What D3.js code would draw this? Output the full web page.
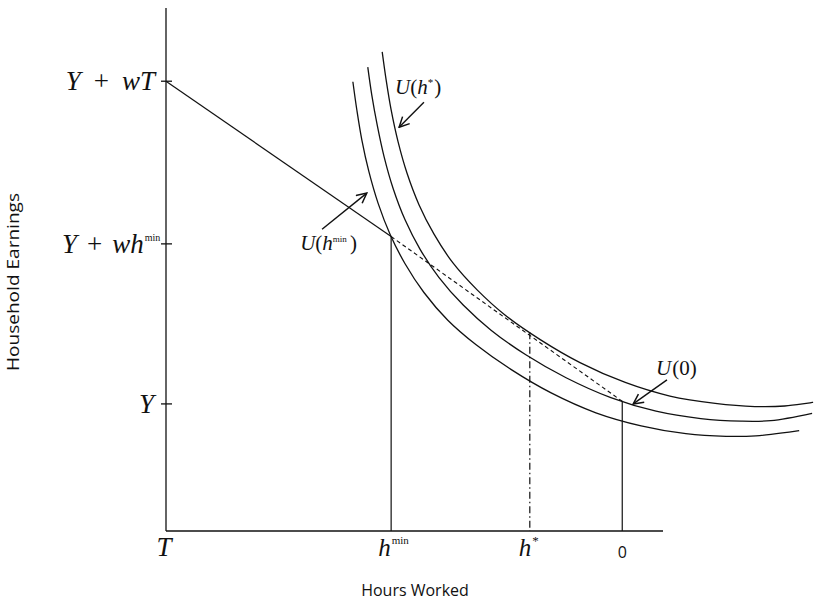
<!DOCTYPE html>
<html>
<head>
<meta charset="utf-8">
<script src="https://cdn.jsdelivr.net/npm/d3@7"></script>
<style>
  body { margin: 0; background: #fff; }
  svg { display: block; }
</style>
</head>
<body>
<div id="chart"></div>
<script>
// Diagram data (abstract units, 0..10 on both axes)
const xTickVals = [0, 4.53, 7.32, 9.18];
const yTickVals = [8.60, 5.49, 2.43];

// budget line: solid up to h^min, dashed after
const budgetX = [0, 4.53, 9.18];
const budgetY = [8.60, 5.63, 2.48];

// indifference curves
const outerX = [4.35, 4.43, 4.53, 4.67, 4.85, 5.09, 5.39, 5.77, 6.26, 6.82, 7.53, 8.33, 9.24, 10.14, 11.05, 11.85, 12.45, 13.02];
const outerY = [9.16, 8.62, 8.05, 7.44, 6.84, 6.24, 5.68, 5.13, 4.61, 4.13, 3.66, 3.22, 2.84, 2.58, 2.44, 2.38, 2.39, 2.46];
const midX = [4.06, 4.14, 4.25, 4.39, 4.57, 4.81, 5.11, 5.49, 5.98, 6.54, 7.24, 8.05, 8.95, 9.86, 10.76, 11.57, 12.17, 13.00];
const midY = [8.87, 8.34, 7.76, 7.15, 6.55, 5.95, 5.39, 4.85, 4.32, 3.84, 3.37, 2.93, 2.55, 2.29, 2.15, 2.10, 2.11, 2.25];
const innerX = [3.76, 3.84, 3.94, 4.08, 4.27, 4.51, 4.81, 5.19, 5.67, 6.24, 6.94, 7.75, 8.65, 9.56, 10.46, 11.27, 11.87, 12.74];
const innerY = [8.59, 8.05, 7.48, 6.88, 6.26, 5.67, 5.11, 4.56, 4.03, 3.56, 3.09, 2.64, 2.26, 2.01, 1.86, 1.81, 1.82, 1.92];

// vertical drop lines
const dropX = [4.53, 7.32, 9.18];
const dropTop = [5.63, 3.80, 2.48];

// annotation arrows [x1, y1, x2, y2]
const arrowHstar = [5.19, 8.20, 4.69, 7.72];
const arrowHmin = [3.14, 5.77, 4.04, 6.46];
const arrowZero = [10.08, 2.89, 9.40, 2.43];

const W = 817, H = 606;
const x = d3.scaleLinear().domain([0, 10]).range([166, 663]);
const y = d3.scaleLinear().domain([0, 10]).range([531, 8]);

const svg = d3.select("#chart").append("svg")
    .attr("width", W).attr("height", H);

const serif = "'Liberation Serif', 'Times New Roman', serif";
const sans = "'Open Sans', 'Liberation Sans', sans-serif";
const ink = "#111";

svg.append("defs").append("marker")
    .attr("id", "arr")
    .attr("viewBox", "0 0 12 12")
    .attr("refX", 11).attr("refY", 6)
    .attr("markerWidth", 12).attr("markerHeight", 12)
    .attr("markerUnits", "userSpaceOnUse")
    .attr("orient", "auto")
  .append("path")
    .attr("d", "M1,1 L11,6 L1,11")
    .attr("fill", "none").attr("stroke", ink).attr("stroke-width", 1.5);

// axes
svg.append("line")
    .attr("x1", x(0)).attr("x2", x(0)).attr("y1", y(0)).attr("y2", y(10))
    .attr("stroke", ink).attr("stroke-width", 1.3);
svg.append("line")
    .attr("x1", x(0)).attr("x2", x(10)).attr("y1", y(0)).attr("y2", y(0))
    .attr("stroke", ink).attr("stroke-width", 1.3);

// y ticks cross the axis
svg.selectAll(".ytick").data(yTickVals).enter().append("line")
    .attr("x1", x(0) - 5).attr("x2", x(0) + 6)
    .attr("y1", d => y(d)).attr("y2", d => y(d))
    .attr("stroke", ink).attr("stroke-width", 1.3);

function mathLabel(g, parts, base) {
  const t = g.append("text").attr("font-family", serif).attr("fill", ink);
  parts.forEach(p => {
    t.append("tspan").text(p.t)
      .attr("font-style", p.up ? "normal" : "italic")
      .attr("font-size", p.fs || base)
      .attr("dy", p.dy || 0)
      .attr("dx", p.dx || 0);
  });
  return t;
}

// y tick labels
mathLabel(svg, [{t: "Y"}, {t: "+", up: true, dx: 13}, {t: "wT", dx: 13}], 27)
    .attr("text-anchor", "end").attr("x", x(0) - 11).attr("y", y(yTickVals[0]) + 9);
mathLabel(svg, [{t: "Y"}, {t: "+", up: true, dx: 10}, {t: "wh", dx: 10}, {t: "min", up: true, fs: 10, dy: -12, dx: 1}], 27)
    .attr("x", 62).attr("y", y(yTickVals[1]) + 9);
mathLabel(svg, [{t: "Y"}], 27)
    .attr("text-anchor", "end").attr("x", x(0) - 12).attr("y", y(yTickVals[2]) + 9);

// x tick labels
mathLabel(svg, [{t: "T"}], 27).attr("text-anchor", "middle")
    .attr("x", x(xTickVals[0]) - 2).attr("y", 556);
mathLabel(svg, [{t: "h"}, {t: "min", up: true, fs: 11, dy: -12, dx: 1}], 25)
    .attr("x", x(xTickVals[1]) - 13).attr("y", 556);
mathLabel(svg, [{t: "h"}, {t: "*", up: true, fs: 13, dy: -11, dx: 1}], 25)
    .attr("x", x(xTickVals[2]) - 11).attr("y", 556);
svg.append("text").text("0")
    .attr("x", x(xTickVals[3])).attr("y", 558)
    .attr("text-anchor", "middle")
    .attr("font-family", sans).attr("font-size", 16).attr("fill", ink);

// budget line
svg.append("line")
    .attr("x1", x(budgetX[0])).attr("y1", y(budgetY[0]))
    .attr("x2", x(budgetX[1])).attr("y2", y(budgetY[1]))
    .attr("stroke", ink).attr("stroke-width", 1.2);
svg.append("line")
    .attr("x1", x(budgetX[1])).attr("y1", y(budgetY[1]))
    .attr("x2", x(budgetX[2])).attr("y2", y(budgetY[2]))
    .attr("stroke", ink).attr("stroke-width", 1.1)
    .attr("stroke-dasharray", "4,3");

// drop lines
const dashes = [null, "7,3,1.5,3", null];
dropX.forEach((d, i) => {
  svg.append("line")
    .attr("x1", x(d)).attr("x2", x(d))
    .attr("y1", y(dropTop[i])).attr("y2", y(0))
    .attr("stroke", ink).attr("stroke-width", 1.2)
    .attr("stroke-dasharray", dashes[i]);
});

// indifference curves
const line = d3.line()
    .x(d => x(d[0])).y(d => y(d[1]))
    .curve(d3.curveCatmullRom.alpha(0.5));
[[outerX, outerY], [midX, midY], [innerX, innerY]].forEach(c => {
  svg.append("path")
    .attr("d", line(d3.zip(c[0], c[1])))
    .attr("fill", "none").attr("stroke", ink).attr("stroke-width", 1.3);
});

// arrows
[arrowHstar, arrowHmin, arrowZero].forEach(a => {
  svg.append("line")
    .attr("x1", x(a[0])).attr("y1", y(a[1]))
    .attr("x2", x(a[2])).attr("y2", y(a[3]))
    .attr("stroke", ink).attr("stroke-width", 1.4)
    .attr("marker-end", "url(#arr)");
});

// curve labels
mathLabel(svg, [{t: "U"}, {t: "(", up: true}, {t: "h"}, {t: "*", up: true, fs: 11, dy: -8}, {t: ")", up: true, dy: 8, dx: 1}], 21)
    .attr("x", x(4.61)).attr("y", y(8.36));
mathLabel(svg, [{t: "U"}, {t: "(", up: true}, {t: "h"}, {t: "min", up: true, fs: 9, dy: -8}, {t: ")", up: true, dy: 8, dx: 3}], 21)
    .attr("x", x(2.70)).attr("y", y(5.37));
mathLabel(svg, [{t: "U"}, {t: "(0)", up: true, dx: 1}], 21)
    .attr("x", x(9.86)).attr("y", y(2.98));

// axis titles
svg.append("text").text("Hours Worked")
    .attr("x", 415).attr("y", 596)
    .attr("text-anchor", "middle")
    .attr("font-family", sans).attr("font-size", 16).attr("fill", ink);
svg.append("text").text("Household Earnings")
    .attr("transform", "translate(19,282) rotate(-90)")
    .attr("text-anchor", "middle")
    .attr("textLength", 178).attr("lengthAdjust", "spacingAndGlyphs")
    .attr("font-family", sans).attr("font-size", 16).attr("fill", ink);
</script>
</body>
</html>
